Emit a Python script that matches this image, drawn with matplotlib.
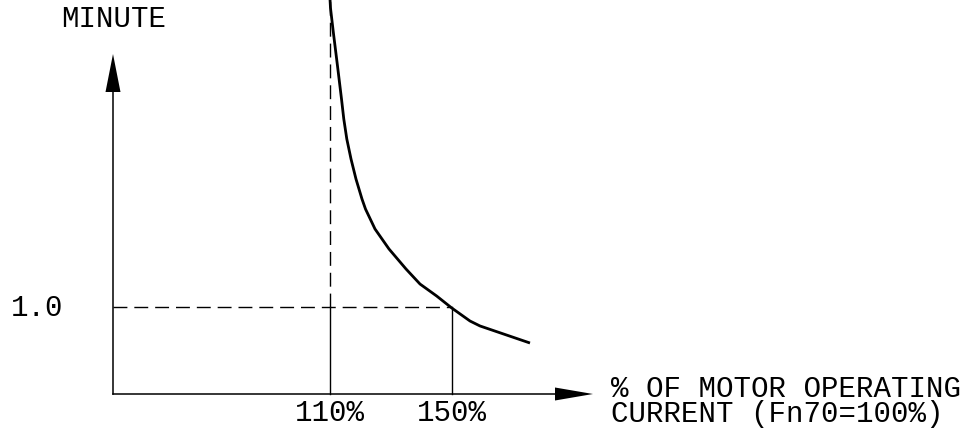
import matplotlib
matplotlib.use("Agg")
import matplotlib.pyplot as plt

# ---- data ----
current_pct = [110.00, 110.16, 111.08, 112.46, 113.77, 114.52, 115.51, 116.89,
               118.52, 120.49, 121.64, 124.75, 129.34, 134.92, 139.51, 144.98,
               149.90, 155.90, 159.18, 175.57]
minutes = [4.540, 4.437, 4.161, 3.770, 3.391, 3.161, 2.931, 2.701,
           2.471, 2.241, 2.126, 1.897, 1.667, 1.437, 1.264, 1.126,
           0.989, 0.839, 0.782, 0.586]
x_ticks = [110, 150]
x_tick_labels = ["110%", "150%"]
y_ref = 1.0
y_ref_label = "1.0"
y_label = "MINUTE"
x_label = "% OF MOTOR OPERATING\nCURRENT (Fn70=100%)"

# ---- layout (pixel scale of the figure) ----
W, H, DPI = 970, 435, 100
PX_PER_PCT = 3.05
PX_PER_MIN = 87.0
X_AT_PX330 = 110.0
BASE_PX = 395.0


def px_x(p):
    return X_AT_PX330 + (p - 330) / PX_PER_PCT


def px_y(p):
    return (BASE_PX - p) / PX_PER_MIN


fig = plt.figure(figsize=(W / DPI, H / DPI), dpi=DPI)
ax = fig.add_axes([0, 0, 1, 1])
ax.set_xlim(px_x(0), px_x(W))
ax.set_ylim(px_y(H), px_y(0))
ax.axis("off")

font = dict(family=["Liberation Mono", "DejaVu Sans Mono"], fontsize=21,
            color="black")

x0 = px_x(113)
y_top = px_y(55)
y_head = px_y(93)
x_tip = px_x(593)
x_head = px_x(555)

# axes lines
ax.plot([x0, x0], [0, y_head], color="black", lw=1.1)
ax.plot([x0, x_head], [0, 0], color="black", lw=1.1)
# arrow heads
hw = 7.5 / PX_PER_PCT
ax.fill([x0 - hw, x0 + hw, x0], [y_head, y_head, y_top], color="black", lw=0)
hh = 6.5 / PX_PER_MIN
ax.fill([x_head, x_head, x_tip], [-hh, hh, 0], color="black", lw=0)

# reference lines
top = px_y(0)
ax.plot([x_ticks[0], x_ticks[0]], [y_ref, top], color="black", lw=1.0,
        dashes=(10, 5))
ax.plot([x_ticks[0], x_ticks[0]], [0, y_ref], color="black", lw=1.0)
ax.plot([x0, x_ticks[1]], [y_ref, y_ref], color="black", lw=1.0,
        dashes=(10, 5))
ax.plot([x_ticks[1], x_ticks[1]], [0, y_ref], color="black", lw=1.0)

# curve
ax.plot(current_pct, minutes, color="black", lw=2.0,
        solid_joinstyle="round", solid_capstyle="butt")

# texts
for xt, lab in zip(x_ticks, x_tick_labels):
    ax.text(xt, px_y(399), lab, ha="center", va="top", **font)
ax.text(px_x(11), y_ref, y_ref_label, ha="left", va="center", **font)
ax.text(px_x(61), px_y(5), y_label, ha="left", va="top", **font)
ax.text(px_x(611), px_y(375), x_label, ha="left", va="top",
        linespacing=0.86, **font)

fig.savefig("out.png", dpi=DPI)
